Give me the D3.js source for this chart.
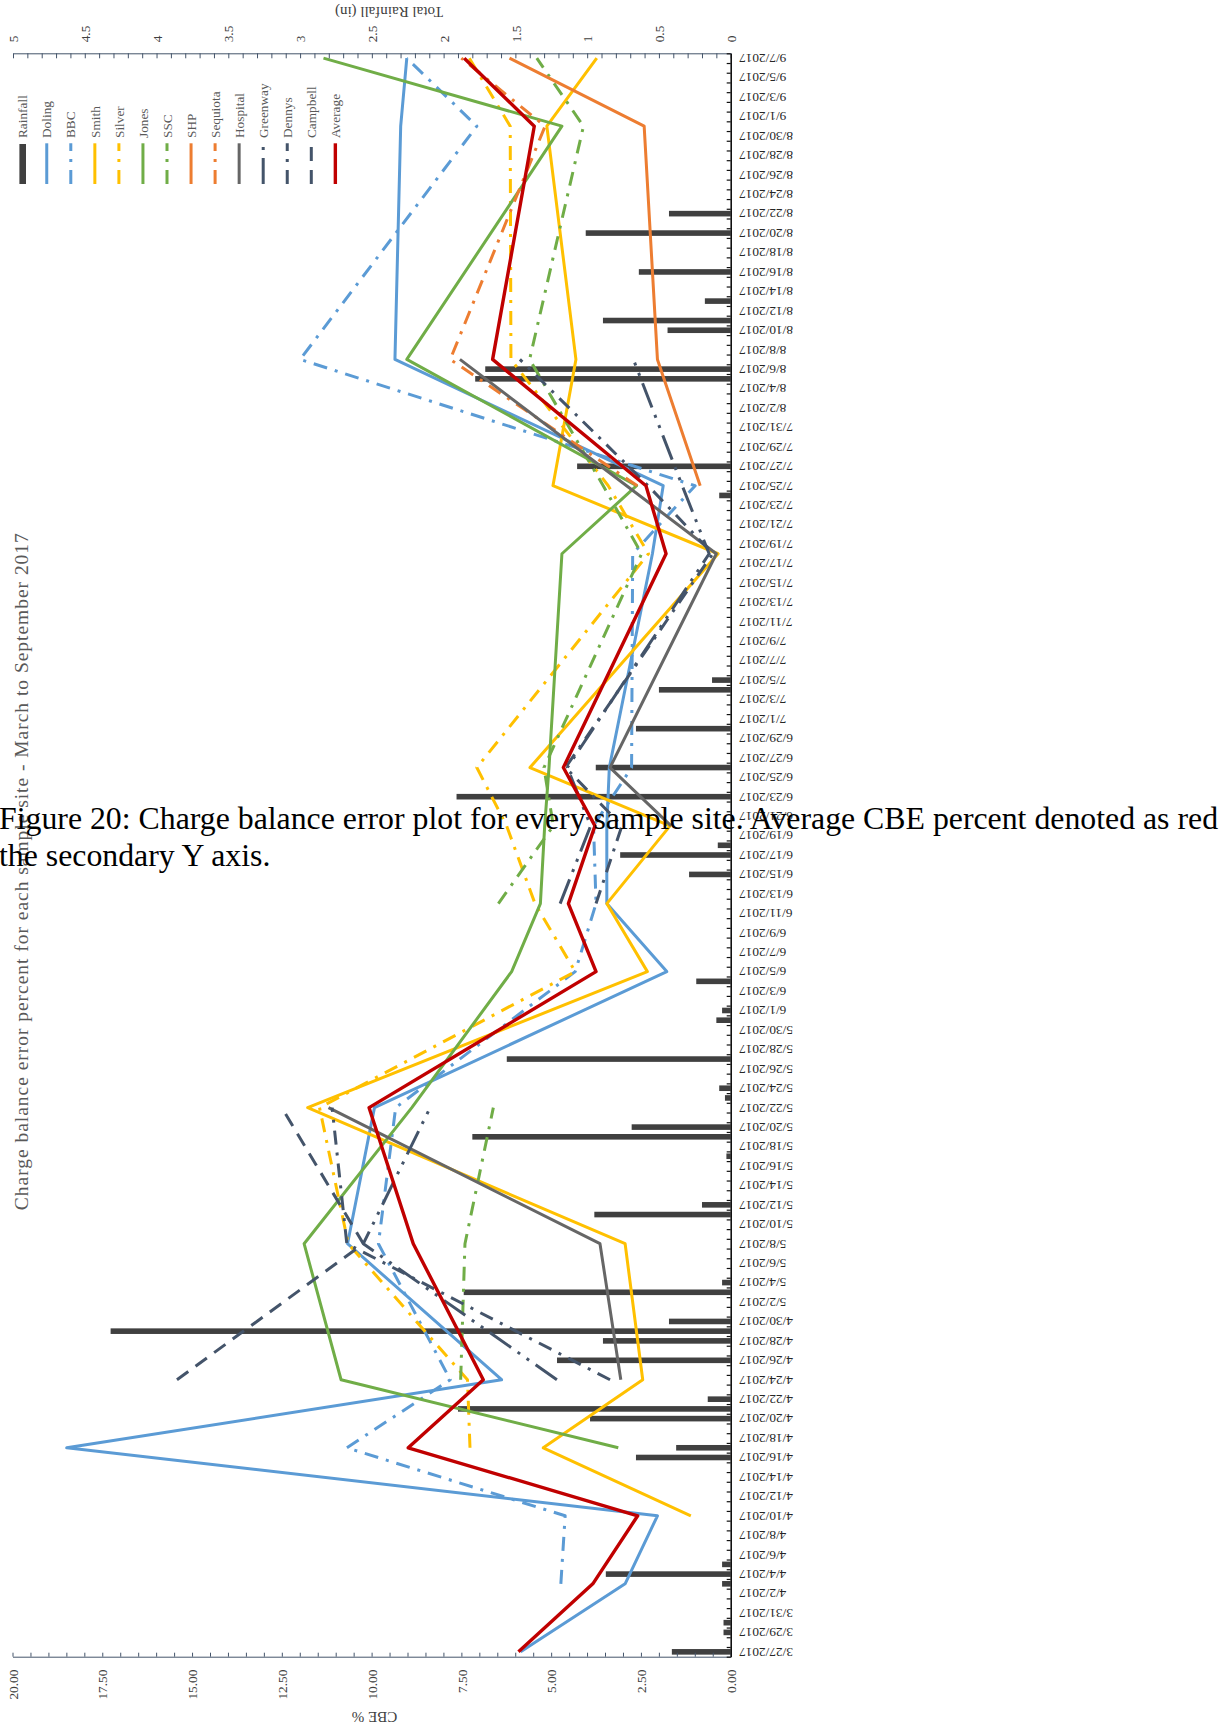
<!DOCTYPE html>
<html><head><meta charset="utf-8">
<script src="https://cdn.jsdelivr.net/npm/d3@7"></script>
<style>
html,body{margin:0;padding:0;background:#fff;overflow:hidden}
svg{display:block}
</style></head><body>
<svg id="chart" width="1220" height="1727"></svg>
<script>
// ---------------- DATA ----------------
const sampleDates = ["3/27","4/3","4/10","4/17","4/24","5/8","5/22","6/5","6/12","6/20","6/26","7/18","7/25","8/7","8/31","9/7"];
const doling   = [5.85,2.94,2.04,18.49,6.38,10.67,9.92,1.78,3.45,3.45,3.38,2.18,1.88,9.35,9.19,9.02];
const bbc      = [null,4.73,4.61,10.69,7.81,9.81,9.33,4.33,3.75,3.82,2.76,2.73,0.99,11.99,7.07,9.02];
const smith    = [null,null,1.11,5.22,2.45,2.94,11.78,2.32,3.45,1.69,5.59,0.35,4.95,4.31,5.12,3.73];
const silver   = [null,null,null,7.26,7.33,10.65,11.45,4.33,5.45,6.24,7.07,2.29,3.41,6.12,6.14,7.28];
const jones    = [null,null,null,3.13,10.85,11.88,8.88,6.10,5.30,5.18,5.06,4.70,2.62,9.02,4.70,11.34];
const ssc      = [null,null,null,null,7.52,7.40,6.61,null,6.47,4.94,5.20,2.48,3.55,5.60,4.10,5.40];
const shp      = [null,null,null,null,null,null,null,null,null,null,null,null,0.85,2.04,2.41,6.16];
const sequiota = [null,null,null,null,null,null,null,null,null,null,null,null,2.60,7.81,5.17,7.50];
const hospital = [null,null,null,null,3.06,3.64,11.20,null,null,1.66,3.36,0.40,2.90,7.54,null,null];
const greenway = [null,null,null,null,4.84,10.23,8.37,null,4.75,3.90,4.55,0.60,1.35,2.71,null,null];
const dennys   = [null,null,null,null,3.36,10.69,11.10,null,3.75,3.03,4.60,0.50,2.30,5.87,null,null];
const campbell = [null,null,null,null,15.42,10.23,12.50,null,null,null,null,null,null,null,null,null];
const average  = [5.91,3.84,2.59,8.98,6.89,8.84,10.07,3.75,4.52,3.78,4.66,1.80,2.36,6.63,5.47,7.42];

const rainDates  = ["3/27","3/29","3/30","4/3","4/4","4/5","4/16","4/17","4/20","4/21","4/22","4/26","4/28","4/29","4/30",
                    "5/3","5/4","5/11","5/12","5/17","5/19","5/20","5/23","5/24","5/27","5/31","6/1","6/4","6/15","6/17",
                    "6/18","6/23","6/26","6/30","7/4","7/5","7/24","7/27","8/5","8/6","8/10","8/11","8/13","8/16","8/20","8/22"];
const rainValues = [0.41,0.05,0.05,0.06,0.87,0.06,0.66,0.38,0.98,1.90,0.16,1.21,0.89,4.32,0.43,
                    1.86,0.06,0.95,0.20,0.03,1.80,0.69,0.04,0.08,1.56,0.10,0.06,0.24,0.29,0.77,
                    0.09,1.91,0.94,0.66,0.50,0.13,0.08,1.07,1.78,1.71,0.44,0.89,0.18,0.64,1.01,0.43];

const seriesNames = ["Doling","BBC","Smith","Silver","Jones","SSC","SHP","Sequiota","Hospital","Greenway","Dennys","Campbell","Average"];
const seriesValues = [doling,bbc,smith,silver,jones,ssc,shp,sequiota,hospital,greenway,dennys,campbell,average];
const legendNames = ["Rainfall"].concat(seriesNames);

const titleText = "Charge balance error percent for each sample site - March to September 2017";
const cbeTitle = "CBE %";
const rainTitle = "Total Rainfall (in)";
const captionLines = ["Figure 20: Charge balance error plot for every sample site. Average CBE percent denoted as red",
                      "the secondary Y axis."];

// ---------------- STYLES ----------------
const DD = "14,8,3,8";
const styles = {
  Doling:{color:"#5B9BD5"}, BBC:{color:"#5B9BD5",dash:DD},
  Smith:{color:"#FFC000"}, Silver:{color:"#FFC000",dash:DD},
  Jones:{color:"#70AD47"}, SSC:{color:"#70AD47",dash:DD},
  SHP:{color:"#ED7D31"}, Sequiota:{color:"#ED7D31",dash:DD},
  Hospital:{color:"#666666"},
  Greenway:{color:"#44546A",dash:"26,8,3,8,3,8"},
  Dennys:{color:"#44546A",dash:DD},
  Campbell:{color:"#44546A",dash:"14,9"},
  Average:{color:"#C00000",width:3.4}
};
const SERIF = "'Liberation Serif','Times New Roman',serif";

// ---------------- CHART ----------------
const svg = d3.select("#chart");
const X0 = 730.7, YTOP = 53.3, YBOT = 1656.7;
const parseDate = s => d3.utcParse("%m/%d/%Y")(s + "/2017");

const yDate = d3.scaleUtc().domain([Date.UTC(2017,2,26,12), Date.UTC(2017,8,7,12)]).range([YBOT, YTOP]);
const xCbe  = d3.scaleLinear().domain([0,20]).range([X0, 12.5]);
const xRain = d3.scaleLinear().domain([0,5]).range([X0, 13]);

// rainfall bars
const rain = rainDates.map((d,i)=>({date:parseDate(d), v:rainValues[i]}));
svg.append("g").selectAll("rect").data(rain).join("rect")
  .attr("x", d=>xRain(d.v)).attr("width", d=>X0 - xRain(d.v))
  .attr("y", d=>yDate(d.date)-2.8).attr("height", 5.6)
  .attr("fill", "#404040");

// lines
const line = d3.line().defined(d=>d.v!=null).x(d=>xCbe(d.v)).y(d=>yDate(d.date));
const gLines = svg.append("g").attr("fill","none").attr("stroke-linejoin","round");
seriesNames.forEach((name,si)=>{
  const data = sampleDates.map((d,i)=>({date:parseDate(d), v:seriesValues[si][i]}));
  const st = styles[name];
  gLines.append("path").datum(data).attr("d", line)
    .attr("stroke", st.color).attr("stroke-width", st.width||3)
    .attr("stroke-dasharray", st.dash||null);
});

// CBE axis (bottom)
const gC = svg.append("g").attr("transform",`translate(0,${YBOT})`)
  .call(d3.axisBottom(xCbe).tickValues(d3.range(0,41).map(i=>i/2)).tickSize(-4).tickSizeOuter(0)
     .tickFormat(v => (v % 2.5 === 0) ? d3.format(".2f")(v) : ""));
gC.attr("font-family", SERIF).attr("font-size", "13.3px");
gC.select(".domain").attr("stroke","#44546A");
gC.selectAll(".tick line").attr("stroke","#44546A");
gC.selectAll(".tick text").attr("y",0).attr("dy","0.35em").attr("text-anchor","end")
  .attr("fill","#404040").attr("transform","translate(0,13) rotate(-90)");

// Rainfall axis (top)
const gR = svg.append("g").attr("transform",`translate(0,${YTOP})`)
  .call(d3.axisTop(xRain).tickValues(d3.range(0,51).map(i=>i/10)).tickSize(-5).tickSizeOuter(0)
     .tickFormat(v => Math.abs(v*2-Math.round(v*2))<1e-9 ? d3.format("~g")(v) : ""));
gR.attr("font-family", SERIF).attr("font-size", "13.3px");
gR.select(".domain").attr("stroke","#44546A");
gR.selectAll(".tick line").attr("stroke","#44546A");
gR.selectAll(".tick text").attr("y",0).attr("dy","0.35em").attr("text-anchor","start")
  .attr("fill","#404040").attr("transform","translate(0,-11) rotate(-90)");

// Date axis (right side)
const labelDates = d3.range(0,165,2).map(k=>new Date(Date.UTC(2017,2,27+k)));
const gD = svg.append("g").attr("transform",`translate(${X0},0)`)
  .call(d3.axisRight(yDate).tickValues(labelDates).tickSize(0).tickSizeOuter(0)
     .tickFormat(d3.utcFormat("%-m/%-d/%Y")));
gD.attr("font-family", SERIF).attr("font-size", "13.3px");
gD.select(".domain").attr("stroke","#111").attr("stroke-width",1.6);
gD.selectAll(".tick text").attr("x",0).attr("dy","0.35em").attr("text-anchor","end")
  .attr("fill","#262626").attr("transform","translate(8.3,0) rotate(180)");
const gDt = svg.append("g").attr("transform",`translate(${X0},0)`)
  .call(d3.axisRight(yDate).tickValues(d3.range(0,166).map(k=>new Date(Date.UTC(2017,2,26,12)+k*864e5)))
     .tickSize(-4).tickSizeOuter(0).tickFormat(""));
gDt.select(".domain").remove();
gDt.selectAll(".tick line").attr("stroke","#111").attr("stroke-width",1.2);

// axis titles
svg.append("text").attr("transform","translate(374.5,1717) rotate(180)")
  .attr("text-anchor","middle").attr("dy","0.35em").attr("font-family",SERIF).attr("font-size","15px")
  .attr("fill","#404040").text(cbeTitle);
svg.append("text").attr("transform","translate(389,12) rotate(180)")
  .attr("text-anchor","middle").attr("dy","0.35em").attr("font-family",SERIF).attr("font-size","15px")
  .attr("fill","#404040").text(rainTitle);

// chart title
svg.append("text").attr("transform","translate(21,871.7) rotate(-90)")
  .attr("text-anchor","middle").attr("dy","0.35em").attr("font-family",SERIF).attr("font-size","19.5px")
  .attr("fill","#595959").attr("textLength",677).attr("lengthAdjust","spacing").text(titleText);

// legend
const gL = svg.append("g");
legendNames.forEach((n,i)=>{
  const cx = 22.7 + 24.05*i;
  if (n === "Rainfall") {
    gL.append("rect").attr("x",cx-3.3).attr("width",6.6).attr("y",144).attr("height",40).attr("fill","#404040");
  } else {
    const st = styles[n];
    gL.append("line").attr("x1",cx).attr("x2",cx).attr("y1",184).attr("y2",143.3)
      .attr("stroke",st.color).attr("stroke-width",st.width||3).attr("stroke-dasharray",st.dash||null);
  }
  gL.append("text").attr("transform",`translate(${cx},138) rotate(-90)`).attr("dy","0.35em")
    .attr("text-anchor","start").attr("font-family",SERIF).attr("font-size","13.3px").attr("fill","#595959").text(n);
});

// caption overlay
captionLines.forEach((t,i)=>{
  svg.append("text").attr("x",-1).attr("y",829 + i*37).attr("font-family",SERIF).attr("font-size","31.8px")
    .attr("fill","#000").text(t);
});
</script>
</body></html>
